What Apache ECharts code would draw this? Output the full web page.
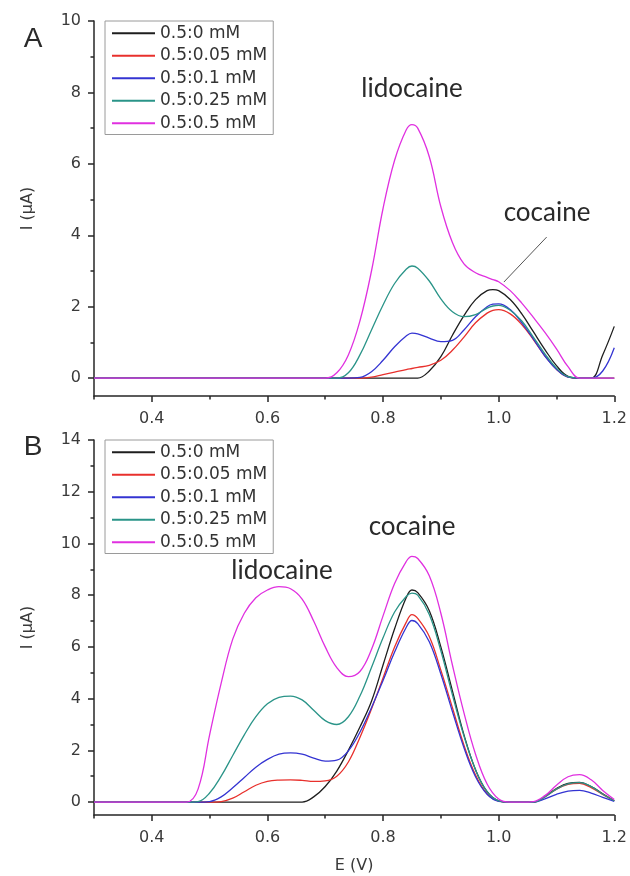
<!DOCTYPE html>
<html>
<head>
<meta charset="utf-8">
<script src="https://cdn.jsdelivr.net/npm/echarts@6/dist/echarts.min.js"></script>
<style>
  html, body { margin: 0; padding: 0; background: #fff; }
  #chart { width: 630px; height: 876px; }
</style>
</head>
<body>
<div id="chart"></div>
<script>
// series names / colours
const names = ['0.5:0 mM', '0.5:0.05 mM', '0.5:0.1 mM', '0.5:0.25 mM', '0.5:0.5 mM'];
const colors = ['#1e1e1e', '#e8302c', '#3434d2', '#2a9488', '#e030e0'];

// panel A (potential in V)
const xA = [0.30, 0.70, 0.72, 0.74, 0.76, 0.78, 0.80, 0.82, 0.84, 0.85, 0.86, 0.88, 0.90, 0.92, 0.94,
  0.96, 0.98, 0.99, 1.00, 1.02, 1.04, 1.06, 1.08, 1.10, 1.12, 1.14, 1.16, 1.18, 1.20];
const aBlack = [0, 0, 0, 0, 0, 0, 0, 0, 0, 0, 0, 0.2, 0.6, 1.2, 1.75, 2.2, 2.45, 2.48, 2.45, 2.2, 1.8, 1.3, 0.8, 0.35, 0.05, 0, 0, 0.65, 1.45];
const aRed = [0, 0, 0, 0, 0, 0.03, 0.1, 0.17, 0.24, 0.27, 0.3, 0.36, 0.5, 0.78, 1.15, 1.55, 1.82, 1.9, 1.92, 1.8, 1.5, 1.08, 0.62, 0.25, 0.03, 0, 0, 0, 0];
const aBlue = [0, 0, 0, 0, 0.02, 0.18, 0.5, 0.88, 1.18, 1.26, 1.24, 1.12, 1.02, 1.06, 1.35, 1.72, 2.0, 2.07, 2.08, 1.92, 1.55, 1.1, 0.62, 0.25, 0.03, 0, 0, 0.2, 0.85];
const aTeal = [0, 0, 0, 0.15, 0.65, 1.35, 2.05, 2.65, 3.05, 3.14, 3.08, 2.72, 2.22, 1.86, 1.72, 1.78, 1.96, 2.02, 2.04, 1.9, 1.6, 1.15, 0.68, 0.28, 0.04, 0, 0, 0, 0];
const aPink = [0, 0, 0.15, 0.65, 1.6, 3.0, 4.75, 6.1, 6.95, 7.1, 7.0, 6.2, 4.8, 3.8, 3.2, 2.95, 2.82, 2.76, 2.7, 2.45, 2.1, 1.7, 1.28, 0.82, 0.32, 0, 0, 0, 0];

// panel B
const xB = [0.30, 0.44, 0.46, 0.48, 0.50, 0.52, 0.54, 0.56, 0.58, 0.60, 0.62, 0.64, 0.66, 0.68, 0.70,
  0.72, 0.74, 0.76, 0.78, 0.80, 0.82, 0.84, 0.85, 0.86, 0.88, 0.90, 0.92, 0.94, 0.96, 0.98,
  1.00, 1.02, 1.04, 1.06, 1.08, 1.10, 1.12, 1.14, 1.16, 1.18, 1.20];
const bBlack = [0, 0, 0, 0, 0, 0, 0, 0, 0, 0, 0, 0, 0, 0.2, 0.6, 1.2, 2.0, 2.9, 3.9, 5.3, 6.7, 7.9, 8.2, 8.1, 7.4, 6.0, 4.3, 2.6, 1.25, 0.4, 0.05, 0, 0, 0, 0.22, 0.52, 0.72, 0.76, 0.6, 0.32, 0.05];
const bRed = [0, 0, 0, 0, 0, 0.02, 0.15, 0.4, 0.65, 0.8, 0.85, 0.86, 0.84, 0.8, 0.82, 1.0, 1.55, 2.5, 3.6, 4.8, 6.0, 6.95, 7.25, 7.1, 6.4, 5.1, 3.65, 2.2, 1.05, 0.32, 0.04, 0, 0, 0, 0.2, 0.5, 0.68, 0.72, 0.56, 0.3, 0.05];
const bBlue = [0, 0, 0, 0, 0.02, 0.2, 0.55, 0.95, 1.35, 1.65, 1.85, 1.9, 1.85, 1.7, 1.58, 1.62, 1.98, 2.7, 3.65, 4.7, 5.8, 6.75, 7.02, 6.9, 6.2, 4.95, 3.5, 2.1, 0.98, 0.3, 0.03, 0, 0, 0, 0.12, 0.3, 0.42, 0.45, 0.35, 0.18, 0.03];
const bTeal = [0, 0, 0, 0.02, 0.35, 1.0, 1.8, 2.6, 3.3, 3.8, 4.05, 4.1, 3.95, 3.55, 3.15, 3.0, 3.3, 4.1, 5.2, 6.35, 7.35, 7.95, 8.08, 8.0, 7.25, 5.85, 4.15, 2.55, 1.25, 0.4, 0.05, 0, 0, 0, 0.2, 0.5, 0.7, 0.75, 0.6, 0.3, 0.05];
const bPink = [0, 0, 0, 0.5, 2.6, 4.6, 6.3, 7.3, 7.9, 8.2, 8.33, 8.25, 7.85, 7.0, 6.0, 5.2, 4.85, 5.05, 5.9, 7.2, 8.45, 9.3, 9.5, 9.42, 8.75, 7.3, 5.3, 3.45, 1.85, 0.7, 0.12, 0, 0, 0.02, 0.25, 0.65, 0.98, 1.06, 0.86, 0.45, 0.1];

// ticks
const xTicks = [0.4, 0.6, 0.8, 1.0, 1.2];
const xMinor = [0.3, 0.5, 0.7, 0.9, 1.1];
const yTicksA = [0, 2, 4, 6, 8, 10];
const yMinorA = [1, 3, 5, 7, 9];
const yTicksB = [0, 2, 4, 6, 8, 10, 12, 14];
const yMinorB = [1, 3, 5, 7, 9, 11, 13];

// leader line from "cocaine" label to the shoulder (A)
const cocaineLeader = [[1.083, 3.95], [1.009, 2.69]];

const chart = echarts.init(document.getElementById('chart'));

const tickFont = { fontFamily: 'DejaVu Sans', fontSize: 16, color: '#3a3a3a' };
const axisColor = '#262626';

function xAxes(grid, withName) {
  return [{
    type: 'value', gridIndex: grid, min: 0.3, max: 1.2, position: 'bottom',
    axisLine: { show: true, onZero: false, lineStyle: { color: axisColor, width: 1.5 } },
    axisTick: { show: true, customValues: xTicks, length: 6, lineStyle: { color: axisColor, width: 1.5 } },
    axisLabel: Object.assign({ customValues: xTicks, margin: 15, formatter: v => v.toFixed(1) }, tickFont),
    splitLine: { show: false },
    name: withName ? 'E (V)' : '',
    nameLocation: 'middle', nameGap: 43,
    nameTextStyle: tickFont
  }, {
    type: 'value', gridIndex: grid, min: 0.3, max: 1.2, position: 'bottom',
    axisLine: { show: false, onZero: false },
    axisTick: { show: true, customValues: xMinor, length: 3.5, lineStyle: { color: axisColor, width: 1.5 } },
    axisLabel: { show: false },
    splitLine: { show: false }
  }];
}

function yAxes(grid, max, major, minor) {
  return [{
    type: 'value', gridIndex: grid, min: -0.5, max: max, position: 'left',
    axisLine: { show: true, onZero: false, lineStyle: { color: axisColor, width: 1.5 } },
    axisTick: { show: true, customValues: major, length: 6, lineStyle: { color: axisColor, width: 1.5 } },
    axisLabel: Object.assign({ customValues: major, margin: 13 }, tickFont),
    splitLine: { show: false },
    name: 'I (μA)', nameLocation: 'middle', nameGap: 58,
    nameTextStyle: tickFont
  }, {
    type: 'value', gridIndex: grid, min: -0.5, max: max, position: 'left',
    axisLine: { show: false, onZero: false },
    axisTick: { show: true, customValues: minor, length: 3.5, lineStyle: { color: axisColor, width: 1.5 } },
    axisLabel: { show: false },
    splitLine: { show: false }
  }];
}

function makeSeries(xs, ys, i, axisIdx) {
  return {
    name: names[i], type: 'line',
    xAxisIndex: axisIdx, yAxisIndex: axisIdx,
    data: xs.map((x, k) => [x, ys[k]]),
    showSymbol: false, smooth: 0.4,
    lineStyle: { color: colors[i], width: 1.3 },
    itemStyle: { color: colors[i] }
  };
}

const seriesA = [aBlack, aRed, aBlue, aTeal, aPink].map((ys, i) => makeSeries(xA, ys, i, 0));
const seriesB = [bBlack, bRed, bBlue, bTeal, bPink].map((ys, i) => makeSeries(xB, ys, i, 2));

seriesA[4].markLine = {
  silent: true, symbol: ['none', 'none'], label: { show: false },
  lineStyle: { color: '#555', width: 1, type: 'solid' },
  data: [[{ coord: cocaineLeader[0] }, { coord: cocaineLeader[1] }]]
};

function legendAt(top) {
  return {
    orient: 'vertical', left: 105, top: top,
    data: names, icon: 'rect', itemWidth: 43, itemHeight: 2, itemGap: 0,
    padding: [1, 6, 0, 7],
    borderColor: '#9a9a9a', borderWidth: 1, backgroundColor: '#fff',
    textStyle: { fontFamily: 'DejaVu Sans', fontSize: 17, color: '#333', lineHeight: 22.5 }
  };
}

function label(text, x, y, size, family) {
  return {
    type: 'text', x: x, y: y, silent: true,
    style: {
      text: text, x: 0, y: 0,
      font: size + 'px ' + family,
      fill: '#2a2a2a',
      align: 'center', verticalAlign: 'middle',
      textAlign: 'center', textVerticalAlign: 'middle'
    }
  };
}

chart.setOption({
  animation: false,
  backgroundColor: '#fff',
  grid: [
    { left: 94, top: 21, width: 522, height: 375 },
    { left: 94, top: 440, width: 522, height: 375 }
  ],
  xAxis: [...xAxes(0, false), ...xAxes(1, true)],
  yAxis: [...yAxes(0, 10, yTicksA, yMinorA), ...yAxes(1, 14, yTicksB, yMinorB)],
  legend: [legendAt(21), legendAt(440)],
  graphic: [
    label('A', 33, 39, 28, 'Liberation Sans'),
    label('B', 33, 447, 28, 'Liberation Sans'),
    label('lidocaine', 412, 89, 26, 'Lato'),
    label('cocaine', 547, 213, 26, 'Lato'),
    label('cocaine', 412, 527, 26, 'Lato'),
    label('lidocaine', 282, 571, 26, 'Lato')
  ],
  series: [...seriesA, ...seriesB]
});
</script>
</body>
</html>
